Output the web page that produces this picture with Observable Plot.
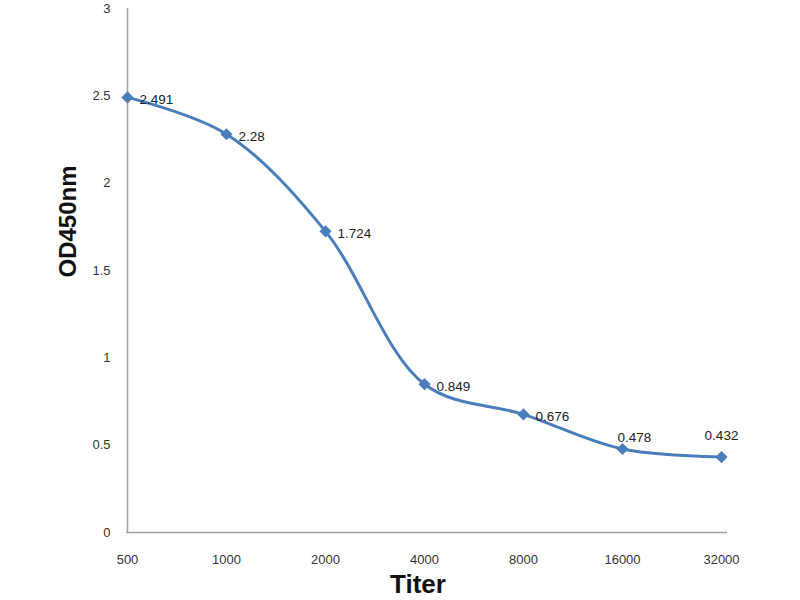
<!DOCTYPE html>
<html><head><meta charset="utf-8">
<script src="https://cdn.jsdelivr.net/npm/d3@7"></script>
<script src="https://cdn.jsdelivr.net/npm/@observablehq/plot@0.6"></script>
<style>
html,body{margin:0;padding:0;background:#fff;}
#chart svg{background:linear-gradient(to right,#fff 0,#fff 50px,#f6f6f6 50px,#f6f6f6 748px,#fff 748px);}
</style>
</head><body><div id="chart"></div>
<script>
const titers = ["500","1000","2000","4000","8000","16000","32000"];
const od = [2.491, 2.28, 1.724, 0.849, 0.676, 0.478, 0.432];
const yTicks = [0, 0.5, 1, 1.5, 2, 2.5, 3];
const data = titers.map((t,i)=>({titer:t, od:od[i], label:String(od[i])}));
const font = "Liberation Sans, Arial, sans-serif";
const color = "#4a7ebb";
const chart = Plot.plot({
  width: 800, height: 600,
  marginLeft: 126, marginRight: 73, marginTop: 8, marginBottom: 68,
  style: {fontFamily: font, fontSize: "13px", color: "#333", background: "transparent"},
  x: {type: "point", domain: titers, range: [126, 722], padding: 0, label: null},
  y: {domain: [0, 3], range: [532, 8], label: null},
  marks: [
    Plot.ruleY([0], {stroke: "#a0a0a0", strokeWidth: 1.5}),
    Plot.ruleX(["500"], {stroke: "#a0a0a0", strokeWidth: 1.5, y1: 0, y2: 3}),
    Plot.axisY({ticks: yTicks, tickSize: 0, tickPadding: 16, tickFormat: d => String(d), fill: "#333", fontSize: 13}),
    Plot.axisX({tickSize: 0, tickPadding: 22, fill: "#333", fontSize: 13}),
    Plot.line(data, {x: "titer", y: "od", curve: "catmull-rom", stroke: color, strokeWidth: 3}),
    Plot.dot(data, {x: "titer", y: "od", symbol: "diamond2", fill: color, r: 5.5, stroke: "none"}),
    Plot.text(data.slice(0, 5), {x: "titer", y: "od", text: "label", dx: 12, dy: 2, textAnchor: "start", fill: "#222", fontSize: 13.5}),
    Plot.text(data.slice(5, 6), {x: "titer", y: "od", text: "label", dx: -5, dy: -11, textAnchor: "start", fill: "#222", fontSize: 13.5}),
    Plot.text(data.slice(6), {x: "titer", y: "od", text: "label", dy: -21, textAnchor: "middle", fill: "#222", fontSize: 13.5}),
    Plot.text(["OD450nm"], {frameAnchor: "left", dx: -58, dy: 7, rotate: -90, text: d => d, fontSize: 24, fontWeight: "bold", fill: "#111"}),
    Plot.text(["Titer"], {frameAnchor: "bottom", dy: 60, dx: -9, text: d => d, fontSize: 26, fontWeight: "bold", fill: "#111"})
  ]
});
document.getElementById("chart").append(chart);
</script></body></html>
